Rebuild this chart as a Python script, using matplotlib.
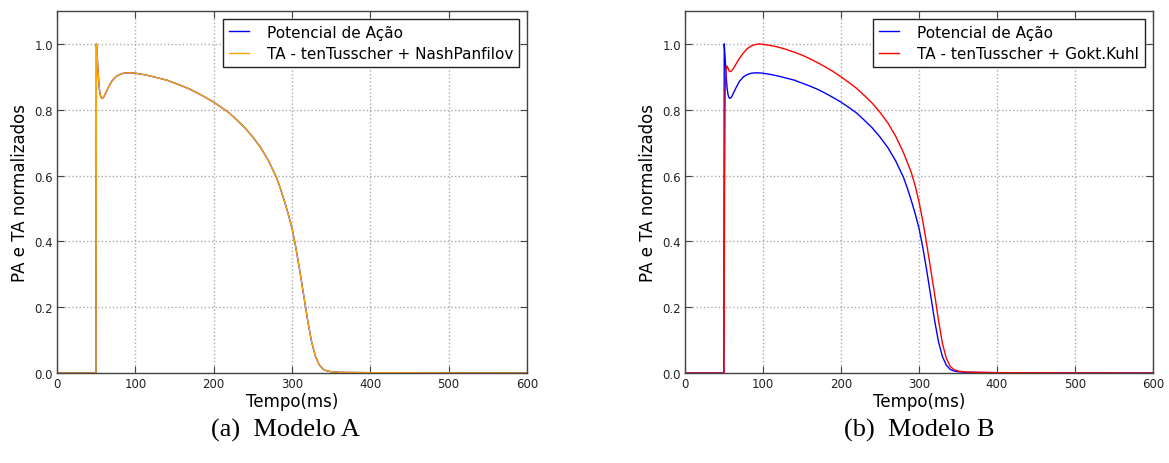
import matplotlib
matplotlib.use("Agg")
import matplotlib.pyplot as plt

# ---- data ----
t_ap = [0, 49.8, 50.3, 51, 52, 53, 54, 55, 56, 57, 58, 59, 60, 62, 65, 70, 75, 80, 85, 90, 95,
        100, 110, 120, 130, 140, 150, 160, 170, 180, 190, 200, 210, 220, 230, 240, 250, 260, 270,
        280, 285, 290, 295, 300, 305, 310, 315, 320, 325, 330, 335, 340, 345, 350, 360, 400, 600]
v_ap = [0, 0, 1.0, 0.975, 0.935, 0.895, 0.865, 0.848, 0.839, 0.835, 0.835, 0.837, 0.84, 0.85,
        0.865, 0.887, 0.9, 0.907, 0.911, 0.912, 0.912, 0.911, 0.907, 0.902, 0.896, 0.89, 0.881,
        0.872, 0.862, 0.85, 0.837, 0.823, 0.807, 0.79, 0.768, 0.745, 0.717, 0.685, 0.645,
        0.595, 0.562, 0.525, 0.485, 0.44, 0.38, 0.31, 0.235, 0.16, 0.095, 0.05, 0.024, 0.011,
        0.006, 0.004, 0.002, 0.001, 0.0]

t_nash = list(t_ap)
v_nash = [0, 0, 1.0, 0.975, 0.935, 0.895, 0.865, 0.848, 0.839, 0.835, 0.835, 0.837, 0.84, 0.85,
          0.865, 0.887, 0.9, 0.907, 0.911, 0.912, 0.912, 0.911, 0.907, 0.902, 0.896, 0.89, 0.881,
          0.872, 0.862, 0.85, 0.837, 0.823, 0.807, 0.79, 0.768, 0.745, 0.717, 0.685, 0.645,
          0.595, 0.562, 0.525, 0.485, 0.44, 0.38, 0.31, 0.235, 0.16, 0.095, 0.05, 0.024, 0.011,
          0.006, 0.004, 0.002, 0.001, 0.0]

t_gk = [0, 50, 50.7, 51.5, 52.5, 53.5, 54.5, 55.5, 56.5, 57.5, 58.5, 60, 62, 65, 70, 75, 80, 85,
        90, 95, 100, 110, 120, 130, 140, 150, 160, 170, 180, 190, 200, 210, 220, 230, 240, 250,
        260, 270, 280, 285, 290, 295, 300, 305, 310, 315, 320, 325, 330, 335, 340, 345, 350,
        360, 400, 600]
v_gk = [0, 0, 0.55, 0.85, 0.92, 0.933, 0.93, 0.924, 0.918, 0.916, 0.916, 0.919, 0.925, 0.937,
        0.957, 0.973, 0.986, 0.994, 0.998, 1.0, 0.999, 0.995, 0.99, 0.983, 0.975, 0.966, 0.955,
        0.943, 0.93, 0.916, 0.9, 0.883, 0.865, 0.843, 0.82, 0.792, 0.76, 0.72, 0.67, 0.64,
        0.61, 0.57, 0.52, 0.46, 0.39, 0.315, 0.24, 0.16, 0.09, 0.045, 0.02, 0.01, 0.006,
        0.003, 0.001, 0.0]

x_ticks = [0, 100, 200, 300, 400, 500, 600]
y_ticks = [0.0, 0.2, 0.4, 0.6, 0.8, 1.0]
x_label = "Tempo(ms)"
y_label = "PA e TA normalizados"
captions = ["(a)  Modelo A", "(b)  Modelo B"]
labels_a = ["Potencial de Ação", "TA - tenTusscher + NashPanfilov"]
labels_b = ["Potencial de Ação", "TA - tenTusscher + Gokt.Kuhl"]

fig = plt.figure(figsize=(11.69, 4.64), dpi=100)
ax1 = fig.add_axes([57/1169, 1-374/464, 470/1169, 362/464])
ax2 = fig.add_axes([685/1169, 1-374/464, 468/1169, 362/464])

ax1.plot(t_ap, v_ap, color="blue", lw=1.0, label=labels_a[0])
ax1.plot(t_nash, v_nash, color="orange", lw=1.0, label=labels_a[1])
ax2.plot(t_ap, v_ap, color="blue", lw=1.0, label=labels_b[0])
ax2.plot(t_gk, v_gk, color="red", lw=1.0, label=labels_b[1])

for ax, cap, cx in zip((ax1, ax2), captions, (0.485, 0.5)):
    ax.set_xlim(0, 600)
    ax.set_ylim(0, 1.1)
    ax.set_xticks(x_ticks)
    ax.set_yticks(y_ticks)
    ax.set_xticklabels([str(v) for v in x_ticks], fontsize=8.5, color="#222222")
    ax.set_yticklabels([f"{v:.1f}" for v in y_ticks], fontsize=8.5, color="#222222")
    ax.tick_params(direction="in", top=True, right=True, length=5, width=0.8,
                   color="#444444", pad=3)
    ax.grid(True, linestyle=":", color="#aaaaaa", linewidth=1.0)
    for s in ax.spines.values():
        s.set_color("#444444")
        s.set_linewidth(1.0)
    ax.set_xlabel(x_label, fontsize=12, labelpad=1)
    ax.set_ylabel(y_label, fontsize=12, labelpad=4)
    leg = ax.legend(loc="upper right", fontsize=11, fancybox=False, framealpha=1,
                    edgecolor="#222222", handlelength=1.3, handletextpad=1.2,
                    borderaxespad=0.5, labelspacing=0.4, borderpad=0.4)
    leg.get_frame().set_linewidth(1.0)
    ax.text(cx, -0.155, cap, transform=ax.transAxes, ha="center", va="center",
            fontsize=19, family="Liberation Serif")

fig.savefig("out.png", dpi=100)
